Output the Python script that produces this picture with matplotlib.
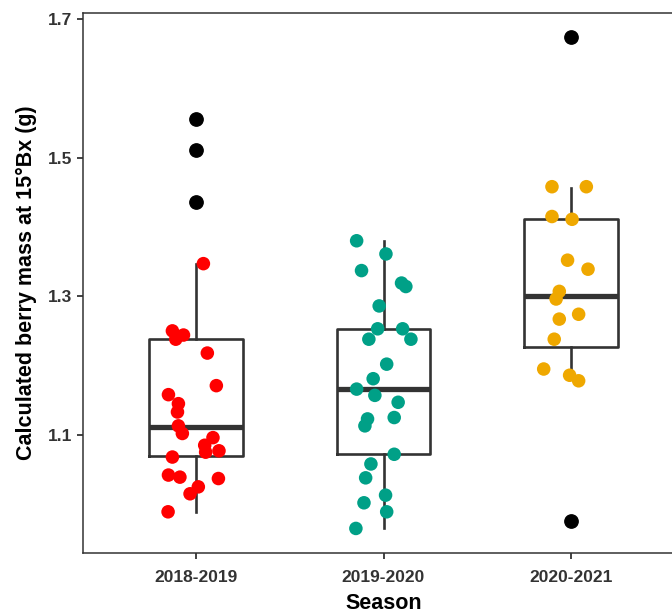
import matplotlib
matplotlib.use("Agg")
import matplotlib.pyplot as plt
import numpy as np

plt.rcParams['font.family'] = ['Liberation Sans', 'DejaVu Sans']

seasons = ["2018-2019", "2019-2020", "2020-2021"]
colors = ["#FF0000", "#00A087", "#EFA800"]

# Calculated berry mass (g) of the non-outlying samples, with their horizontal jitter
mass_1819 = [1.347, 1.250, 1.244, 1.238, 1.218, 1.171, 1.158, 1.145, 1.133, 1.113, 1.102,
             1.096, 1.085, 1.075, 1.077, 1.068, 1.042, 1.039, 1.037, 1.025, 1.015, 0.989]
jitter_1819 = [0.041, -0.124, -0.065, -0.106, 0.062, 0.110, -0.145, -0.092, -0.097, -0.092, -0.071,
               0.092, 0.048, 0.053, 0.124, -0.124, -0.145, -0.084, 0.121, 0.014, -0.030, -0.147]

mass_1920 = [1.380, 1.361, 1.337, 1.319, 1.314, 1.286, 1.253, 1.253, 1.238, 1.238, 1.202, 1.181, 1.166,
             1.157, 1.147, 1.123, 1.113, 1.125, 1.072, 1.058, 1.038, 1.013, 1.002, 0.989, 0.965]
jitter_1920 = [-0.143, 0.013, -0.117, 0.096, 0.119, -0.023, -0.031, 0.102, -0.078, 0.146, 0.017, -0.055, -0.143,
               -0.046, 0.078, -0.085, -0.099, 0.057, 0.057, -0.067, -0.095, 0.011, -0.104, 0.017, -0.147]

mass_2021 = [1.458, 1.458, 1.415, 1.411, 1.352, 1.339, 1.307, 1.296, 1.274, 1.267, 1.238, 1.195, 1.186, 1.178]
jitter_2021 = [-0.103, 0.080, -0.103, 0.004, -0.020, 0.089, -0.064, -0.081, 0.039, -0.064, -0.091, -0.147, -0.009, 0.039]

# Box summaries per season
q1 = [1.069, 1.072, 1.227]
median = [1.112, 1.166, 1.301]
q3 = [1.238, 1.253, 1.411]
whisker_low = [0.989, 0.966, 1.180]
whisker_high = [1.347, 1.379, 1.456]
outliers = [[1.555, 1.511, 1.436], [], [1.674, 0.976]]

yticks = [1.1, 1.3, 1.5, 1.7]

masses = [mass_1819, mass_1920, mass_2021]
jitters = [jitter_1819, jitter_1920, jitter_2021]

fig = plt.figure(figsize=(6.72, 6.13), dpi=100)
ax = fig.add_axes([83 / 672, 1 - 552.7 / 613, (684 - 83) / 672, (552.7 - 13) / 613])

positions = np.arange(1, len(seasons) + 1)
stats = []
for i in range(len(seasons)):
    stats.append(dict(med=median[i], q1=q1[i], q3=q3[i], whislo=whisker_low[i],
                      whishi=whisker_high[i], fliers=outliers[i], label=seasons[i]))

edge = "#333333"
ax.bxp(stats, positions=positions, widths=0.5, showcaps=False,
       boxprops=dict(color=edge, linewidth=1.9),
       whiskerprops=dict(color=edge, linewidth=1.9),
       medianprops=dict(color=edge, linewidth=3.8, solid_capstyle='butt'),
       flierprops=dict(marker='o', markerfacecolor='black', markeredgecolor='black',
                       markersize=9.6, linestyle='none'),
       zorder=2)

for pos, vals, jit, col in zip(positions, masses, jitters, colors):
    ax.scatter(pos + np.array(jit), vals, s=95, color=col, edgecolors='none', zorder=3)

ax.set_xlim(0.4, 3.6)
ax.set_ylim(0.930, 1.7086)
ax.set_xticks(positions)
ax.set_xticklabels(seasons)
ax.set_yticks(yticks)
ax.set_yticklabels([f"{v:.1f}" for v in yticks])

for side in ["left", "bottom", "top", "right"]:
    ax.spines[side].set_color("#333333")
    ax.spines[side].set_linewidth(1.1)

ax.tick_params(axis='both', direction='out', length=4.5, width=1.3, color='#333333',
               labelsize=12.5, labelcolor='#333333', pad=3)
ax.tick_params(axis='x', pad=8)
for lab in ax.get_xticklabels() + ax.get_yticklabels():
    lab.set_fontweight('bold')

ax.set_xlabel("Season", fontsize=15.5, fontweight='bold', color='black', labelpad=6)
ax.set_ylabel("Calculated berry mass at 15°Bx (g)", fontsize=15.5, fontweight='bold',
              color='black', labelpad=8)

fig.savefig("out.png", dpi=100)
